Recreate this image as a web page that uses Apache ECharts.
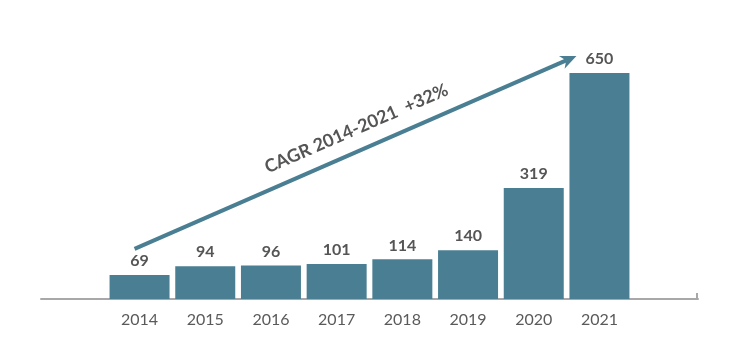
<!DOCTYPE html>
<html><head><meta charset="utf-8">
<script src="https://cdn.jsdelivr.net/npm/echarts@6/dist/echarts.min.js"></script>
<style>html,body{margin:0;padding:0;background:#fff}#c{width:754px;height:360px}</style>
</head><body><div id="c"></div>
<script>
const categories = ['', '2014', '2015', '2016', '2017', '2018', '2019', '2020', '2021', ''];
const values = [null, 69, 94, 96, 101, 114, 140, 319, 650, null];
const arrowStart = ['2014', 144];
const arrowEnd = ['2021', 699];
const annotation = 'CAGR 2014-2021  +32%';
const barColor = '#4a7f93';
const textColor = '#555555';

const chart = echarts.init(document.getElementById('c'));
chart.setOption({
  animation: false,
  grid: { left: 41, right: 56, top: 73, bottom: 61 },
  xAxis: {
    type: 'category', data: categories, boundaryGap: true,
    axisLine: { lineStyle: { color: '#a8a8a8', width: 2 } },
    axisTick: { show: false },
    axisLabel: { color: '#5a5a5a', fontSize: 16, fontFamily: 'Lato', margin: 13 }
  },
  yAxis: { type: 'value', min: 0, max: 650, show: false, splitLine: { show: false } },
  series: [{
    type: 'bar', data: values, barWidth: 60, itemStyle: { color: barColor },
    label: { show: true, position: 'top', distance: 6, color: textColor, fontSize: 16, fontWeight: 'bold', fontFamily: 'Lato' }
  }]
});

const p0 = chart.convertToPixel({ gridIndex: 0 }, arrowStart);
const p1 = chart.convertToPixel({ gridIndex: 0 }, arrowEnd);
const x0 = p0[0] - 5, y0 = p0[1], x1 = p1[0] - 23, y1 = p1[1];
const ang = Math.atan2(y1 - y0, x1 - x0);
const headLen = 16, headW = 7;
const bx = x1 - headLen * Math.cos(ang), by = y1 - headLen * Math.sin(ang);
const nx = -Math.sin(ang), ny = Math.cos(ang);
const band = chart.convertToPixel({ gridIndex: 0 }, ['2021', 0])[0] - chart.convertToPixel({ gridIndex: 0 }, ['2020', 0])[0];
const pEnd = chart.convertToPixel({ gridIndex: 0 }, ['2021', 0]);
const axisRight = pEnd[0] + band * 1.5;
const axisLeft = chart.convertToPixel({ gridIndex: 0 }, ['2014', 0])[0] - band * 1.5;
const axisY = pEnd[1];
const mx = x0 + (x1 - x0) * 0.52, my = y0 + (y1 - y0) * 0.52;
chart.setOption({
  graphic: [
    { type: 'line', shape: { x1: x0, y1: y0, x2: bx + (x1 - bx) * 0.3, y2: by + (y1 - by) * 0.3 }, style: { stroke: barColor, lineWidth: 4 } },
    { type: 'polygon', shape: { points: [[x1, y1], [bx + nx * headW, by + ny * headW], [bx + (x1 - bx) * 0.3, by + (y1 - by) * 0.3], [bx - nx * headW, by - ny * headW]] }, style: { fill: barColor } },
    { type: 'text', x: mx - 8, y: my - 20, rotation: -ang, originX: 0, originY: 0,
      style: { text: annotation, fill: textColor, font: 'bold 18px Lato', align: 'center', verticalAlign: 'middle' } },
    { type: 'line', shape: { x1: axisRight - 1, y1: axisY - 6, x2: axisRight - 1, y2: axisY + 1 }, style: { stroke: '#a8a8a8', lineWidth: 2 } },
    { type: 'line', shape: { x1: axisLeft, y1: axisY, x2: axisLeft + 16, y2: axisY }, style: { stroke: '#999999', lineWidth: 2 } }
  ]
});
</script></body></html>
